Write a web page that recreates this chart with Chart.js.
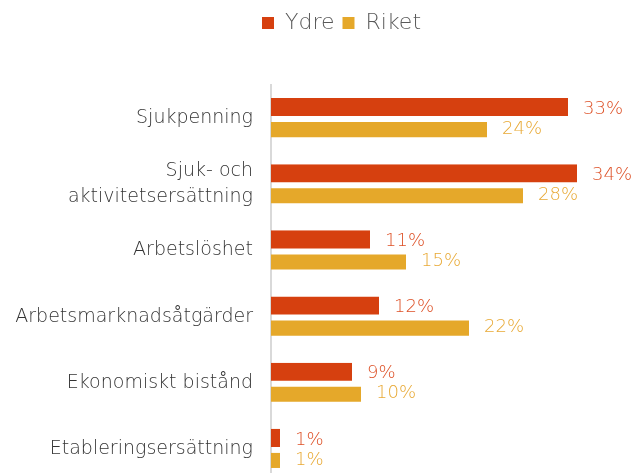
<!DOCTYPE html>
<html>
<head>
<meta charset="utf-8">
<script src="https://cdn.jsdelivr.net/npm/chart.js@4/dist/chart.umd.min.js"></script>
<style>
  html, body { margin: 0; padding: 0; background: #ffffff; overflow: hidden; }
  canvas { display: block; }
</style>
</head>
<body>
<canvas id="chart" width="631" height="482"></canvas>
<script>
// Andel per ersättningstyp, Ydre jämfört med riket (procent)
const categories = [
  'Sjukpenning',
  ['Sjuk- och', 'aktivitetsersättning'],
  'Arbetslöshet',
  'Arbetsmarknadsåtgärder',
  'Ekonomiskt bistånd',
  'Etableringsersättning'
];
const ydreValues  = [33, 34, 11, 12, 9, 1];
const riketValues = [24, 28, 15, 22, 10, 1];
const seriesNames = ['Ydre', 'Riket'];

const FONT = '"DejaVu Sans", "Liberation Sans", sans-serif';
const ydreColor = '#D6400F';
const riketColor = '#E5A82A';
const ydreLabel = '#DD5026';
const riketLabel = '#E8A935';

// Percent labels at the end of every bar
const valueLabels = {
  id: 'valueLabels',
  afterDatasetsDraw(chart) {
    const ctx = chart.ctx;
    const colors = [ydreLabel, riketLabel];
    ctx.save();
    ctx.font = '200 18px ' + FONT;
    ctx.textAlign = 'left';
    ctx.textBaseline = 'middle';
    chart.data.datasets.forEach((ds, di) => {
      const meta = chart.getDatasetMeta(di);
      meta.data.forEach((bar, i) => {
        ctx.fillStyle = colors[di];
        ctx.fillText(ds.data[i] + '%', bar.x + 15, bar.y + 1);
      });
    });
    ctx.restore();
  }
};

// Fixed legend band, legend nudged right of the canvas centre
const legendBand = {
  id: 'legendBand',
  afterInit(chart) {
    const lg = chart.legend;
    if (!lg) return;
    const fit = lg.fit.bind(lg);
    lg.fit = function () { fit(); this.height = 85; };
    const draw = lg.draw.bind(lg);
    lg.draw = function () {
      const ctx = chart.ctx;
      ctx.save();
      ctx.translate(26, 4);
      draw();
      ctx.restore();
    };
  }
};

new Chart(document.getElementById('chart'), {
  type: 'bar',
  data: {
    labels: categories,
    datasets: [
      {
        label: seriesNames[0],
        data: ydreValues,
        backgroundColor: ydreColor,
        borderColor: 'rgba(255,255,255,0)',
        borderWidth: { top: 0, bottom: 2, left: 0, right: 0 },
        borderSkipped: false,
        barPercentage: 1,
        categoryPercentage: 0.606
      },
      {
        label: seriesNames[1],
        data: riketValues,
        backgroundColor: riketColor,
        borderColor: 'rgba(255,255,255,0)',
        borderWidth: { top: 4, bottom: 1, left: 0, right: 0 },
        borderSkipped: false,
        barPercentage: 1,
        categoryPercentage: 0.606
      }
    ]
  },
  options: {
    indexAxis: 'y',
    responsive: false,
    animation: false,
    events: [],
    layout: { padding: 0 },
    plugins: {
      tooltip: { enabled: false },
      legend: {
        position: 'top',
        align: 'center',
        labels: {
          boxWidth: 12,
          boxHeight: 12,
          padding: 8,
          color: '#595959',
          font: { family: FONT, size: 22, weight: '200' }
        }
      }
    },
    scales: {
      x: {
        display: false,
        min: 0,
        max: 40
      },
      y: {
        grid: { display: false, drawTicks: false },
        border: { display: true, color: '#D9D9D9', width: 2 },
        ticks: {
          color: '#333333',
          padding: 18,
          font: { family: FONT, size: 19, weight: '200', lineHeight: 1.35 }
        },
        afterFit(scale) {
          scale.width = 271;
          scale.paddingTop = 0;
          scale.paddingBottom = 0;
        }
      }
    }
  },
  plugins: [valueLabels, legendBand]
});
</script>
</body>
</html>
